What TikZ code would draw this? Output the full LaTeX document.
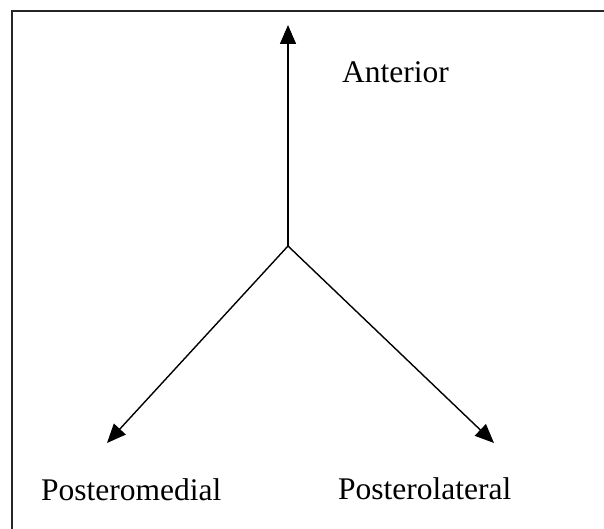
\documentclass[tikz,border=0pt]{standalone}
\usepackage{fontspec}
\setmainfont{Liberation Serif}
\usetikzlibrary{arrows.meta,positioning}

\begin{document}
\begin{tikzpicture}[x=1pt,y=-1pt]
                \useasboundingbox (0,0) rectangle (604,529);
                \tikzset{axis/.style={line width=1.4pt,-{Triangle[length=19pt,width=16pt]}},
                         lbl/.style={font=\fontsize{31.5}{36}\selectfont,inner sep=0pt,anchor=base west}}
                % frame (only top and left edge inside the crop)
                \draw[line width=2pt,black!85] (604,11) -- (12,11) -- (12,529);
                \coordinate (o) at (288,246);
                \coordinate (ant) at (288,25);
                \coordinate (pm) at (107,443);
                \coordinate (pl) at (494,443);
                \draw[axis] (o) -- (ant);
                \draw[axis] (o) -- (pm);
                \draw[axis] (o) -- (pl);
                \node[lbl] (antlabel) at (342,83) {Anterior};
                \node[lbl] (pmlabel) at (41,500) {Posteromedial};
                \node[lbl] (pllabel) at (338,499) {Posterolateral};
            \end{tikzpicture}
\end{document}
